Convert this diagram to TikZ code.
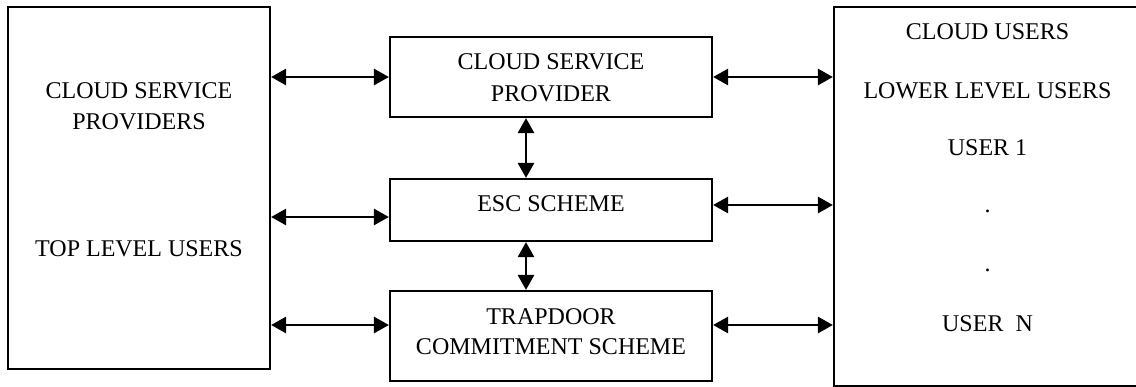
\documentclass[tikz,border=0pt]{standalone}
\usepackage{fontspec}
\setmainfont{Liberation Serif}
\usetikzlibrary{arrows.meta}
\begin{document}
\begin{tikzpicture}[x=1pt,y=-1pt,
  box/.style={draw, line width=2.2pt, inner sep=0pt},
  lbl/.style={font=\fontsize{24}{30}\selectfont, inner sep=0pt, anchor=base},
  link/.style={line width=2.7pt,
    {Triangle[length=15pt,width=16pt]}-{Triangle[length=15pt,width=16pt]}}]
\useasboundingbox (0,0) rectangle (1136,387);
\clip (0,0) rectangle (1136,387);

% outer blocks
\node[box, minimum width=262pt, minimum height=362pt] (csp) at (139,188) {};
\node[box, minimum width=307pt, minimum height=379pt] (users) at (987.5,196.5) {};

% middle blocks
\node[box, minimum width=322pt, minimum height=80pt] (prov) at (551,77) {};
\node[box, minimum width=322pt, minimum height=62pt] (esc) at (551,210) {};
\node[box, minimum width=322pt, minimum height=90pt] (trap) at (551,336) {};

% labels of the left block
\node[lbl] (cspA) at (139,98.5) {CLOUD SERVICE};
\node[lbl] (cspB) at (139,130) {PROVIDERS};
\node[lbl] (cspC) at (139,256.7) {TOP LEVEL USERS};

% labels of the middle blocks
\node[lbl] (provA) at (551,70) {CLOUD SERVICE};
\node[lbl] (provB) at (551,101.7) {PROVIDER};
\node[lbl] (escA) at (551,212) {ESC SCHEME};
\node[lbl] (trapA) at (551,325) {TRAPDOOR};
\node[lbl] (trapB) at (551,355) {COMMITMENT SCHEME};

% labels of the right block
\node[lbl] (usrA) at (987.5,39.3) {CLOUD USERS};
\node[lbl] (usrB) at (987.5,98.3) {LOWER LEVEL USERS};
\node[lbl] (usrC) at (987.5,156) {USER 1};
\node[lbl] (usrD) at (987.5,213) {.};
\node[lbl] (usrE) at (987.5,272) {.};
\node[lbl] (usrF) at (987.5,331.7) {USER\ \ N};

% heights and column of the connectors
\coordinate (yl) at (0,217);
\coordinate (yr) at (0,205);
\coordinate (yt) at (0,325);
\coordinate (vx) at (526,0);

% links to the left block
\draw[link] (csp.east |- prov.west) -- (prov.west);
\draw[link] (csp.east |- yl) -- (esc.west |- yl);
\draw[link] (csp.east |- yt) -- (trap.west |- yt);

% links to the right block
\draw[link] (prov.east) -- (users.west |- prov.east);
\draw[link] (esc.east |- yr) -- (users.west |- yr);
\draw[link] (trap.east |- yt) -- (users.west |- yt);

% links between the middle blocks
\draw[link] (vx |- prov.south) -- (vx |- esc.north);
\draw[link] (vx |- esc.south) -- (vx |- trap.north);
\end{tikzpicture}
\end{document}
